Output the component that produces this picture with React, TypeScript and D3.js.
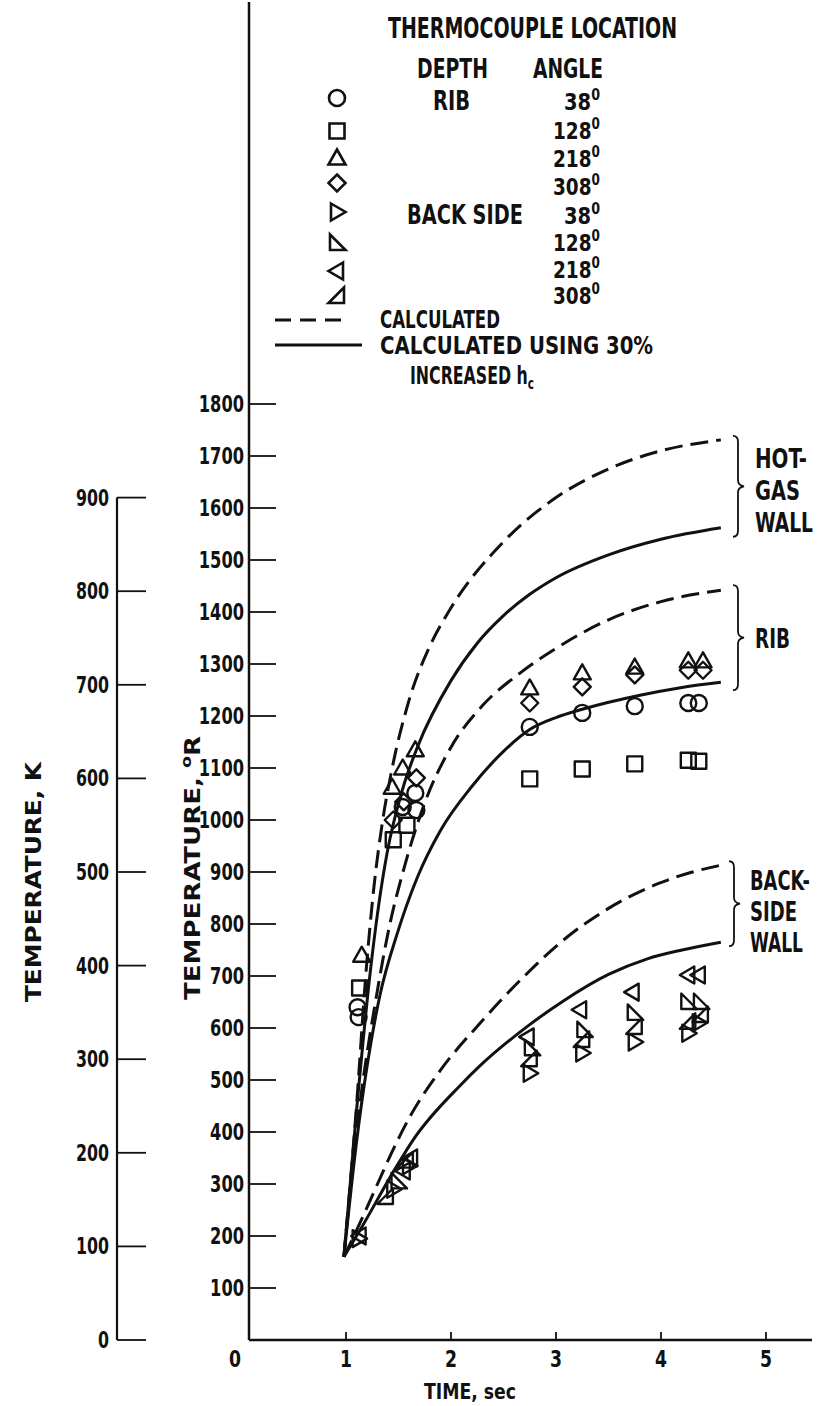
import { useLayoutEffect, useRef, useState, ReactNode } from "react"
import * as d3 from "d3"

// time (sec) vs temperature (deg R)
const hotGasCalc: [number, number][] = [
  [0.98, 160], [1.1, 450], [1.19, 706], [1.26, 860], [1.35, 1000], [1.44, 1100], [1.6, 1230],
  [1.8, 1335], [2.0, 1408], [2.5, 1535], [3.0, 1620], [3.5, 1675], [4.0, 1710], [4.57, 1731],
]
const hotGasIncr: [number, number][] = [
  [0.98, 160], [1.1, 440], [1.23, 706], [1.3, 820], [1.39, 935], [1.54, 1060], [1.68, 1140],
  [2.0, 1268], [2.25, 1340], [2.5, 1393], [2.75, 1434], [3.0, 1466], [3.5, 1510], [4.0, 1540], [4.57, 1562],
]
const ribCalc: [number, number][] = [
  [0.98, 160], [1.1, 400], [1.3, 673], [1.42, 802], [1.54, 898], [1.75, 1033], [2.0, 1140],
  [2.3, 1220], [2.66, 1283], [3.0, 1330], [3.5, 1385], [4.0, 1420], [4.57, 1442],
]
const ribIncr: [number, number][] = [
  [0.98, 160], [1.1, 380], [1.32, 660], [1.49, 783], [1.68, 890], [1.9, 980], [2.2, 1065],
  [2.5, 1132], [2.75, 1174], [3.0, 1197], [3.25, 1213], [3.8, 1240], [4.2, 1255], [4.57, 1265],
]
const backCalc: [number, number][] = [
  [0.98, 160], [1.11, 215], [1.3, 300], [1.47, 375], [1.61, 430], [1.9, 519], [2.28, 610],
  [2.7, 700], [3.07, 769], [3.5, 830], [3.99, 879], [4.3, 900], [4.57, 913],
]
const backIncr: [number, number][] = [
  [0.98, 160], [1.13, 210], [1.47, 330], [1.64, 385], [2.09, 490], [2.28, 528], [2.74, 605],
  [3.07, 652], [3.5, 703], [3.87, 733], [4.2, 750], [4.57, 765],
]

// measured thermocouples
const rib38: [number, number][] = [
  [1.11, 640], [1.12, 621], [1.54, 1025], [1.66, 1052], [1.67, 1019],
  [2.75, 1179], [3.25, 1206], [3.75, 1219], [4.26, 1225], [4.36, 1225],
]
const rib128: [number, number][] = [
  [1.13, 677], [1.45, 962], [1.58, 990], [2.75, 1079], [3.25, 1098], [3.75, 1108], [4.26, 1115], [4.36, 1113],
]
const rib218: [number, number][] = [
  [1.15, 740], [1.44, 1063], [1.54, 1100], [1.66, 1135], [2.75, 1254], [3.25, 1283], [3.75, 1294], [4.26, 1306], [4.4, 1306],
]
const rib308: [number, number][] = [
  [1.45, 1000], [1.55, 1035], [1.67, 1081], [2.75, 1225], [3.25, 1256], [3.75, 1279], [4.26, 1288], [4.4, 1288],
]
const back38: [number, number][] = [
  [1.12, 195], [1.45, 290], [1.6, 335], [2.75, 513], [3.25, 552], [3.75, 573], [4.26, 590], [4.36, 610],
]
const back128: [number, number][] = [
  [1.5, 305], [2.77, 561], [3.27, 596], [3.75, 629], [4.26, 650], [4.38, 650],
]
const back218: [number, number][] = [
  [1.13, 200], [1.55, 325], [1.62, 350], [2.73, 583], [3.23, 635], [3.73, 669], [4.26, 702], [4.36, 702],
]
const back308: [number, number][] = [
  [1.38, 275], [1.57, 345], [2.75, 540], [3.25, 577], [3.75, 602], [4.26, 612], [4.38, 625],
]

const rTicks = d3.range(100, 1900, 100)
const kTicks = d3.range(0, 1000, 100)
const tTicks = [0, 1, 2, 3, 4, 5]

const FONT = "'DejaVu Sans Condensed', 'DejaVu Sans', sans-serif"
const INK = "#111"

const shapes: Record<string, string> = {
  circle: d3.symbol(d3.symbolCircle, Math.PI * 8 * 8)()!,
  square: "M-7.5,-7.5h15v15h-15Z",
  tri: "M0,-8.5L8.5,6.5L-8.5,6.5Z",
  diamond: "M0,-8.5L8.5,0L0,8.5L-8.5,0Z",
  right: "M-6,-8.5L8.5,0L-6,8.5Z",
  corner: "M-7,-8.5L-7,7L8.5,7Z",
  left: "M6,-8.5L-8.5,0L6,8.5Z",
  corner2: "M7,-8.5L7,7L-8.5,7Z",
}

const series = [
  { data: rib38, shape: "circle", depth: "RIB", angle: "38" },
  { data: rib128, shape: "square", depth: "", angle: "128" },
  { data: rib218, shape: "tri", depth: "", angle: "218" },
  { data: rib308, shape: "diamond", depth: "", angle: "308" },
  { data: back38, shape: "right", depth: "BACK SIDE", angle: "38" },
  { data: back128, shape: "corner", depth: "", angle: "128" },
  { data: back218, shape: "left", depth: "", angle: "218" },
  { data: back308, shape: "corner2", depth: "", angle: "308" },
]
const legendRowY = [98, 131, 158, 183, 212, 243, 271, 296]
const legendTextY = [110, 139, 167, 195, 224, 251, 278, 304]

function brace(x: number, top: number, bottom: number) {
  const mid = (top + bottom) / 2
  return `M${x - 4},${top} q5,0 5,6 V${mid - 6} q0,5 6,6 q-6,1 -6,6 V${bottom - 6} q0,6 -5,6`
}

// text squeezed horizontally to a given width (the lettering is very narrow)
function Fit(props: { x: number; y: number; w: number; size: number; anchor?: string; children: ReactNode }) {
  const ref = useRef<SVGTextElement>(null)
  const [k, setK] = useState(0.8)
  useLayoutEffect(() => {
    if (!ref.current) return
    const n = ref.current.getComputedTextLength()
    if (n > 0) setK(props.w / n)
  }, [props.w, props.size])
  return (
    <g transform={`translate(${props.x},${props.y}) scale(${k},1)`}>
      <text ref={ref} x={0} y={0} fontSize={props.size} fontWeight="bold" textAnchor={props.anchor || "start"}>
        {props.children}
      </text>
    </g>
  )
}

export default function App() {
  const W = 823
  const H = 1406
  const x = d3.scaleLinear().domain([0, 5]).range([241, 766])
  const y = d3.scaleLinear().domain([0, 1800]).range([1340, 404])
  const yK = d3.scaleLinear().domain([0, 900]).range([1340, y(1620)])
  const line = d3.line<[number, number]>()
    .x(d => x(d[0]))
    .y(d => y(d[1]))
    .curve(d3.curveMonotoneX)

  const axisX = 249
  const kAxisX = 117
  const dash = "18 8"

  return (
    <svg width={W} height={H} style={{ position: "absolute", left: 0, top: 0, background: "#fff" }}
      fontFamily={FONT} fill={INK}>
      {/* deg R axis */}
      <line x1={axisX} y1={2} x2={axisX} y2={y(0)} stroke={INK} strokeWidth={2.5} />
      {rTicks.map(v => (
        <g key={v}>
          <line x1={axisX} x2={axisX + 27} y1={y(v)} y2={y(v)} stroke={INK} strokeWidth={1.8} />
          <Fit x={axisX - 5} y={y(v) + 8} w={String(v).length * 11.3} size={23} anchor="end">{v}</Fit>
        </g>
      ))}

      {/* K axis */}
      <line x1={kAxisX} y1={yK(900)} x2={kAxisX} y2={yK(0)} stroke={INK} strokeWidth={2.2} />
      {kTicks.map(v => (
        <g key={v}>
          <line x1={kAxisX} x2={kAxisX + 29} y1={yK(v)} y2={yK(v)} stroke={INK} strokeWidth={1.8} />
          <Fit x={kAxisX - 8} y={yK(v) + 8} w={String(v).length * 11} size={23} anchor="end">{v}</Fit>
        </g>
      ))}

      {/* time axis */}
      <line x1={axisX} y1={y(0)} x2={812} y2={y(0)} stroke={INK} strokeWidth={2.5} />
      {tTicks.map(t => (
        <g key={t}>
          {t > 0 && <line x1={x(t)} x2={x(t)} y1={y(0)} y2={y(0) - 8} stroke={INK} strokeWidth={1.8} />}
          <Fit x={t === 0 ? x(t) - 6 : x(t)} y={y(0) + 27} w={12} size={23} anchor="middle">{t}</Fit>
        </g>
      ))}
      <Fit x={470} y={1399} w={92} size={22} anchor="middle">TIME, sec</Fit>

      <g transform="translate(41,882) rotate(-90)">
        <Fit x={0} y={0} w={240} size={21} anchor="middle">TEMPERATURE, K</Fit>
      </g>
      <g transform="translate(200,1000) rotate(-90)">
        <Fit x={0} y={0} w={264} size={21}>
          TEMPERATURE, <tspan fontSize={14} dy={-9}>o</tspan><tspan dy={9}>R</tspan>
        </Fit>
      </g>

      {/* calculated curves */}
      {[hotGasCalc, ribCalc, backCalc].map((d, i) => (
        <path key={"c" + i} d={line(d)!} fill="none" stroke={INK} strokeWidth={3} strokeDasharray={dash} />
      ))}
      {[hotGasIncr, ribIncr, backIncr].map((d, i) => (
        <path key={"s" + i} d={line(d)!} fill="none" stroke={INK} strokeWidth={3} />
      ))}

      {/* thermocouple data */}
      {series.map((s, i) => (
        <g key={i}>
          {s.data.map((d, j) => (
            <path key={j} d={shapes[s.shape]} transform={`translate(${x(d[0])},${y(d[1])})`}
              fill="none" stroke={INK} strokeWidth={2.4} strokeLinejoin="round" />
          ))}
        </g>
      ))}

      {/* region braces */}
      <path d={brace(737, y(1731) - 4, y(1562) + 9)} fill="none" stroke={INK} strokeWidth={1.8} />
      <Fit x={755} y={468} w={52} size={26}>HOT-</Fit>
      <Fit x={755} y={500} w={45} size={26}>GAS</Fit>
      <Fit x={755} y={532} w={58} size={26}>WALL</Fit>
      <path d={brace(737, y(1442) - 5, y(1265) + 8)} fill="none" stroke={INK} strokeWidth={1.8} />
      <Fit x={755} y={648} w={35} size={26}>RIB</Fit>
      <path d={brace(733, y(913) - 4, y(765) + 4)} fill="none" stroke={INK} strokeWidth={1.8} />
      <Fit x={750} y={890} w={60} size={26}>BACK-</Fit>
      <Fit x={750} y={921} w={47} size={26}>SIDE</Fit>
      <Fit x={750} y={952} w={53} size={26}>WALL</Fit>

      {/* legend */}
      <Fit x={388} y={38} w={289} size={29}>THERMOCOUPLE LOCATION</Fit>
      <Fit x={417} y={78} w={71} size={27}>DEPTH</Fit>
      <Fit x={533} y={78} w={70} size={27}>ANGLE</Fit>
      {series.map((s, i) => (
        <g key={"l" + i}>
          <path d={shapes[s.shape]} transform={`translate(337,${legendRowY[i]})`}
            fill="none" stroke={INK} strokeWidth={2.6} />
          {s.depth && (
            <Fit x={s.depth === "RIB" ? 433 : 407} y={legendTextY[i]} w={s.depth === "RIB" ? 37 : 116} size={27}>
              {s.depth}
            </Fit>
          )}
          <Fit x={s.angle.length === 2 ? 564 : 553} y={legendTextY[i]} w={s.angle.length === 2 ? 36 : 47} size={23}>
            {s.angle}<tspan fontSize={15} dy={-10}>0</tspan>
          </Fit>
        </g>
      ))}
      <line x1={275} x2={345} y1={320} y2={320} stroke={INK} strokeWidth={3} strokeDasharray="16 9" />
      <Fit x={380} y={328} w={120} size={24}>CALCULATED</Fit>
      <line x1={275} x2={362} y1={345} y2={345} stroke={INK} strokeWidth={3} />
      <Fit x={380} y={354} w={273} size={24}>CALCULATED USING 30%</Fit>
      <Fit x={410} y={384} w={124} size={24}>
        INCREASED h<tspan fontSize={16} dy={5}>c</tspan>
      </Fit>
    </svg>
  )
}
